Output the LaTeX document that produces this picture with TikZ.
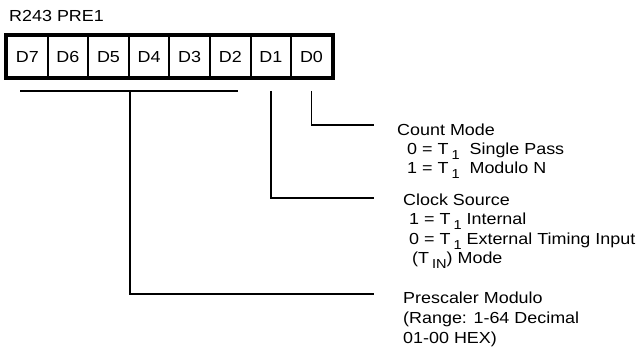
\documentclass[tikz,border=0pt]{standalone}
\usepackage{fontspec}
\setmainfont{Liberation Sans}
\usetikzlibrary{positioning}
\newcommand\lowix[1]{\,\raisebox{-4.5pt}{\fontsize{13}{13}\selectfont#1}}

\begin{document}
\begin{tikzpicture}[x=1pt, y=-1pt,
  txt/.style={anchor=base west, inner sep=0pt, xscale=1.12, font=\fontsize{16}{16}\selectfont},
  bit/.style={draw, line width=2pt, minimum width=36.25pt, minimum height=41.5pt, inner sep=0pt, xscale=1.12, font=\fontsize{16}{16}\selectfont},
  conn/.style={line width=1.8pt}]
\useasboundingbox (0,0) rectangle (642,347);
\node[txt] (reg) at (9,22) {R243 PRE1};
\foreach \b [count=\k from 0] in {7,...,0}
  \node[bit] (d\b) at (27.3+40.6*\k,56.75) {D\b};
\draw[line width=4pt] (d7.north west) rectangle (d0.south east);
% brackets
\coordinate (bl) at (20,91); \coordinate (br) at (238,91);
\coordinate (e0) at (374,125); \coordinate (e1) at (374,198); \coordinate (e2) at (374,294);
\draw[conn] (bl) -- (br);
\draw[conn] (d0.south |- bl) |- (e0);
\draw[conn] (d1.south |- bl) |- (e1);
\draw[conn] (d5.south east |- bl) |- (e2);
% fields
\node[txt] (cnt) at (397,136) {Count Mode};
\node[txt] (cnt0) at (407,155) {0 = T\lowix{1}\ \ Single Pass};
\node[txt] (cnt1) at (407,174) {1 = T\lowix{1}\ \ Modulo N};
\node[txt] (clk) at (403,206) {Clock Source};
\node[txt] (clk1) at (409,225) {1 = T\lowix{1} Internal};
\node[txt] (clk0) at (409,245) {0 = T\lowix{1} External Timing Input};
\node[txt] (clkm) at (412,264) {(T\lowix{IN}) Mode};
\node[txt] (pre) at (403,303) {Prescaler Modulo};
\node[txt] (prer) at (403,323) {(Range: 1-64 Decimal};
\node[txt] (preh) at (403,343) {01-00 HEX)};
\end{tikzpicture}
\end{document}
